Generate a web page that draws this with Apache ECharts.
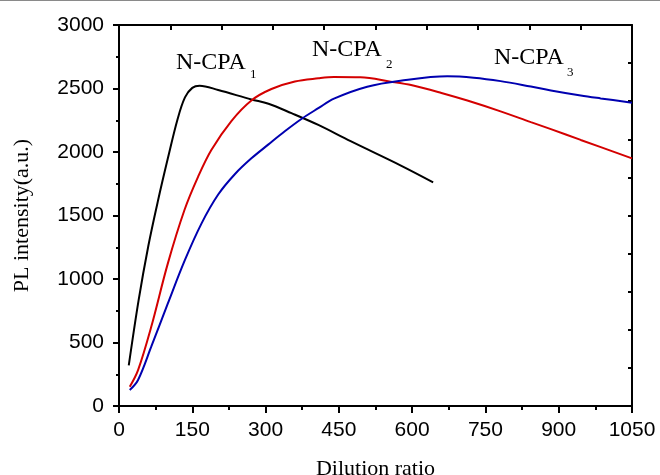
<!DOCTYPE html>
<html>
<head>
<meta charset="utf-8">
<script src="https://cdn.jsdelivr.net/npm/echarts@6/dist/echarts.min.js"></script>
<style>html,body{margin:0;padding:0;background:#fff;}#c{width:660px;height:475px;}</style>
</head>
<body>
<div id="c"></div>
<script>
var xTicks = [0, 150, 300, 450, 600, 750, 900, 1050];
var yTicks = [0, 500, 1000, 1500, 2000, 2500, 3000];

var cpa1X = [20, 40, 60, 80, 100, 120, 135, 150, 165, 203, 271, 306, 353, 408, 474, 576, 643];
var cpa1Y = [320, 830, 1260, 1620, 1950, 2260, 2430, 2505, 2522, 2488, 2414, 2380, 2306, 2213, 2085, 1895, 1761];

var cpa2X = [22, 39, 66, 100, 134, 162, 189, 230, 271, 312, 360, 408, 440, 494, 556, 600, 660, 713, 781, 843, 884, 945, 1050];
var cpa2Y = [152, 283, 624, 1123, 1543, 1806, 2016, 2244, 2406, 2496, 2555, 2580, 2590, 2588, 2554, 2525, 2465, 2405, 2320, 2235, 2180, 2095, 1950];

var cpa3X = [22, 39, 66, 100, 135, 169, 203, 237, 271, 306, 340, 374, 408, 440, 508, 576, 672, 726, 781, 843, 884, 945, 986, 1050];
var cpa3Y = [126, 205, 467, 808, 1150, 1438, 1665, 1825, 1950, 2060, 2165, 2262, 2345, 2420, 2514, 2561, 2596, 2585, 2558, 2515, 2485, 2445, 2422, 2388];

function pairs(xs, ys) { return xs.map(function (x, i) { return [x, ys[i]]; }); }

var chart = echarts.init(document.getElementById('c'), null, {renderer: 'canvas'});
var sans = 'Liberation Sans, Arial, sans-serif';
var serif = 'Liberation Serif, Times New Roman, serif';
var axisLine = {show: true, onZero: false, lineStyle: {color: '#000', width: 2}};
function plain(v) { return String(v); }

var option = {
  animation: false,
  backgroundColor: '#fff',
  grid: {left: 119, right: 28, top: 25, bottom: 69, containLabel: false, outerBoundsMode: 'none'},
  xAxis: [{
    type: 'value', position: 'bottom', min: 0, max: 1050, interval: 150,
    axisLine: axisLine,
    axisTick: {show: true, inside: false, length: 7, lineStyle: {color: '#000', width: 2}},
    minorTick: {show: true, splitNumber: 2, length: 4, lineStyle: {color: '#000', width: 2}},
    splitLine: {show: false},
    axisLabel: {color: '#000', fontFamily: sans, fontSize: 21, margin: 14, formatter: plain},
    name: 'Dilution ratio', nameLocation: 'middle', nameGap: 52,
    nameTextStyle: {color: '#000', fontFamily: serif, fontSize: 22}
  }, {
    type: 'value', position: 'top', min: 0, max: 1050, interval: 105,
    axisLine: axisLine,
    axisTick: {show: true, inside: true, length: 5, lineStyle: {color: '#000', width: 2}},
    axisLabel: {show: false}, splitLine: {show: false}
  }],
  yAxis: [{
    type: 'value', position: 'left', min: 0, max: 3000, interval: 500,
    axisLine: axisLine,
    axisTick: {show: true, inside: false, length: 6, lineStyle: {color: '#000', width: 2}},
    minorTick: {show: true, splitNumber: 2, length: 3, lineStyle: {color: '#000', width: 2}},
    splitLine: {show: false},
    axisLabel: {color: '#000', fontFamily: sans, fontSize: 21, margin: 15, formatter: plain},
    name: 'PL intensity(a.u.)', nameLocation: 'middle', nameGap: 86, nameRotate: 90,
    nameTextStyle: {color: '#000', fontFamily: serif, fontSize: 22}
  }, {
    type: 'value', position: 'right', min: 0, max: 3000, interval: 300,
    axisLine: axisLine,
    axisTick: {show: true, inside: true, length: 4, lineStyle: {color: '#000', width: 2}},
    axisLabel: {show: false}, splitLine: {show: false}
  }],
  series: [
    {name: 'N-CPA1', type: 'line', data: pairs(cpa1X, cpa1Y), smooth: 0.35, showSymbol: false,
     lineStyle: {color: '#000000', width: 2}, itemStyle: {color: '#000'}},
    {name: 'N-CPA2', type: 'line', data: pairs(cpa2X, cpa2Y), smooth: 0.35, showSymbol: false,
     lineStyle: {color: '#d40000', width: 2}, itemStyle: {color: '#d40000'}},
    {name: 'N-CPA3', type: 'line', data: pairs(cpa3X, cpa3Y), smooth: 0.35, showSymbol: false,
     lineStyle: {color: '#0000b0', width: 2}, itemStyle: {color: '#0000b0'}}
  ],
  graphic: [
    {type: 'rect', shape: {x: 0, y: 0, width: 660, height: 1}, style: {fill: '#8a8a8a'}},
    {type: 'text', left: 176, top: 51, style: {text: 'N-CPA', font: '24px ' + serif, fill: '#000'}},
    {type: 'text', left: 250, top: 68, style: {text: '1', font: '13px ' + serif, fill: '#000'}},
    {type: 'text', left: 312, top: 38, style: {text: 'N-CPA', font: '24px ' + serif, fill: '#000'}},
    {type: 'text', left: 386, top: 58, style: {text: '2', font: '13px ' + serif, fill: '#000'}},
    {type: 'text', left: 494, top: 46, style: {text: 'N-CPA', font: '24px ' + serif, fill: '#000'}},
    {type: 'text', left: 567, top: 66, style: {text: '3', font: '13px ' + serif, fill: '#000'}}
  ]
};
chart.setOption(option);
</script>
</body>
</html>
